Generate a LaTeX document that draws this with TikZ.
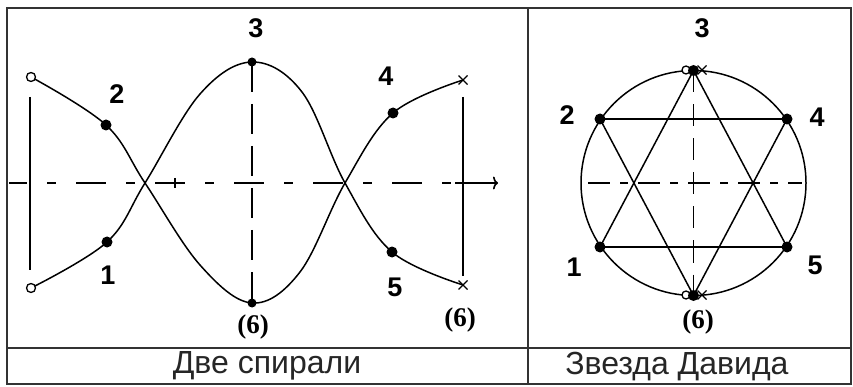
\documentclass[tikz,border=0pt]{standalone}
\usepackage{fontspec}
\setmainfont{Liberation Serif}
\newfontfamily\capfont{Liberation Sans}
\usetikzlibrary{arrows.meta}
\begin{document}
\begin{tikzpicture}[x=1pt,y=-1pt,
  frame/.style={line width=2.2pt, draw=black!80},
  curve/.style={line width=1.5pt},
  solidln/.style={line width=1.6pt},
  axisl/.style={line width=1.6pt, dash pattern=on 30pt off 20pt on 9pt off 20pt, dash phase=12pt},
  vdash/.style={line width=1.6pt, dash pattern=on 30pt off 12pt},
  axisr/.style={line width=1.5pt, dash pattern=on 22pt off 10pt on 8pt off 10pt},
  vdashr/.style={line width=1.5pt, dash pattern=on 22pt off 12pt},
  fdot/.style={fill=black, circle, inner sep=0pt, minimum size=11pt},
  sdot/.style={fill=black, circle, inner sep=0pt, minimum size=9pt},
  odot/.style={draw, fill=white, circle, inner sep=0pt, minimum size=9pt, line width=1.3pt},
  num/.style={font=\capfont\bfseries\fontsize{27}{27}\selectfont},
  six/.style={font=\bfseries\fontsize{27}{27}\selectfont},
  captxt/.style={font=\capfont\fontsize{32}{32}\selectfont, text=black!85},
  xm/.pic={\draw[line width=1.3pt] (-4.5,-4.5)--(4.5,4.5) (-4.5,4.5)--(4.5,-4.5);}]
\useasboundingbox (0,0) rectangle (853,387);
% frame
\draw[frame] (7,8) rectangle (851,384);
\draw[frame] (528,8) -- (528,384);
\draw[frame] (7,348) -- (851,348);
\node[captxt] (capL) at (267,366) {Две спирали};
\node[captxt] (capR) at (677,367) {Звезда Давида};

% ---------- left panel ----------
\coordinate (axS) at (9,183);
\coordinate (axM) at (455,183);
\coordinate (axE) at (498,183);
\draw[axisl] (axS) -- (axM);
\draw[solidln,-{To[length=5pt,width=13pt]}] (axM) -- (axE);
\draw[solidln] (175,178) -- (175,188);
\coordinate (c3) at (252,62);
\coordinate (c6) at (252,303);
\draw[vdash] (c3) -- (c6);
\draw[solidln] (30,97) -- (30,270);
\draw[solidln] (463,97) -- (463,276);
% curves
\draw[curve] plot[smooth, tension=0.6] coordinates {(31,77) (106,125) (145,183) (200,265) (252,303) (300,272) (345,183) (393,113) (463,80)};
\draw[curve] plot[smooth, tension=0.6] coordinates {(31,288) (107,242) (145,183) (200,94) (252,62) (302,92) (345,183) (392,252) (463,285)};
\node[odot] (o2) at (31,77) {};
\node[odot] (o1) at (31,288) {};
\node[fdot] (p2) at (106,125) {};
\node[fdot] (p1) at (107,242) {};
\node[sdot] (p3) at (c3) {};
\node[sdot] (p6) at (c6) {};
\node[fdot] (p4) at (393,113) {};
\node[fdot] (p5) at (392,252) {};
\pic at (463,80) {xm};
\pic at (463,285) {xm};
\node[num] (l3) at (256,28) {3};
\node[num] (l2) at (117,94) {2};
\node[num] (l1) at (108,275) {1};
\node[six] (l6) at (253,327) {(6)};
\node[num] (l4) at (386,76) {4};
\node[num] (l5) at (395,287) {5};
\node[six] (l6b) at (460,320) {(6)};

% ---------- right panel ----------
\coordinate (O) at (693.5,183);
\draw[curve] (O) circle (112.5);
\coordinate (s3) at (693.5,70.5);
\coordinate (s6) at (693.5,295.5);
\coordinate (s2) at (600,119);
\coordinate (s4) at (787,119);
\coordinate (s1) at (600,247);
\coordinate (s5) at (787,247);
\draw[axisr] (588,183) -- (802,183);
\draw[vdashr] (s3) -- (s6);
\draw[curve] (s2) -- (s4) (s1) -- (s5);
\draw[curve] (s3) -- (s1) (s3) -- (s5);
\draw[curve] (s6) -- (s2) (s6) -- (s4);
\node[odot, minimum size=8pt] (t1) at (686,70) {};
\pic at (702,70) {xm};
\node[fdot] (t2) at (s3) {};
\node[odot, minimum size=8pt] (b1) at (686,295) {};
\pic at (702,295) {xm};
\node[fdot] (b2) at (s6) {};
\node[fdot] (q2) at (s2) {};
\node[fdot] (q4) at (s4) {};
\node[fdot] (q1) at (s1) {};
\node[fdot] (q5) at (s5) {};
\node[num] (r3) at (702,28) {3};
\node[num] (r2) at (567,115) {2};
\node[num] (r4) at (817,117) {4};
\node[num] (r1) at (574,267) {1};
\node[num] (r5) at (815,265) {5};
\node[six] (r6) at (698,322) {(6)};
\end{tikzpicture}
\end{document}
